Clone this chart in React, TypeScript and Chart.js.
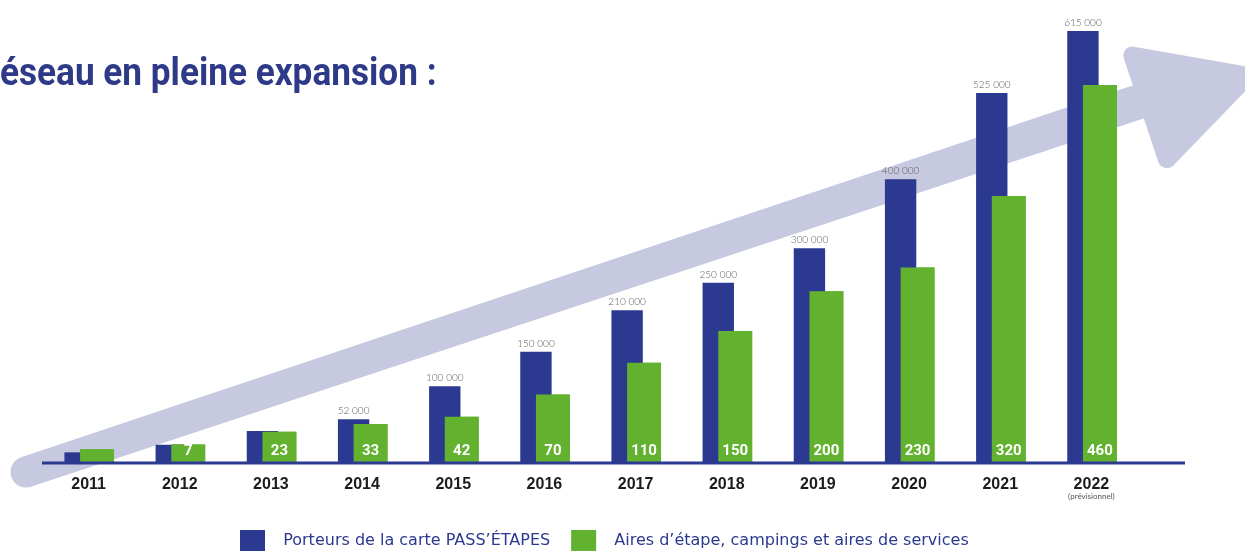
import React, { useEffect, useRef } from "react";
import { Chart, registerables } from "chart.js";

Chart.register(...registerables);

// ---- data ----
const years = ["2011", "2012", "2013", "2014", "2015", "2016", "2017", "2018", "2019", "2020", "2021", "2022"];
const porteurs = [4000, 15000, 35000, 52000, 100000, 150000, 210000, 250000, 300000, 400000, 525000, 615000];
const porteursLabelled = [false, false, false, true, true, true, true, true, true, true, true, true];
const aires = [1, 7, 23, 33, 42, 70, 110, 150, 200, 230, 320, 460];
const airesLabelled = [false, true, true, true, true, true, true, true, true, true, true, true];
const seriesNames = ["Porteurs de la carte PASS’ÉTAPES", "Aires d’étape, campings et aires de services"];
const titleText = "éseau en pleine expansion :";
const forecastNote = "(prévisionnel)";
const forecastYear = "2022";

const BLUE = "#2b3990";
const GREEN = "#62b22f";
const ARROW = "#c6c9df";

const fmt = (v: number) => String(v).replace(/\B(?=(\d{3})+(?!\d))/g, " ");

const decorPlugin = {
  id: "decor",
  afterLayout(chart: any) {
    const lg = chart.legend;
    if (!lg || !lg.lineWidths) return;
    const pad = lg.options.labels.padding;
    const cx = (lg.left + pad + lg.right - lg.lineWidths[0]) / 2;
    const s = 240 - cx;
    lg.left += s;
    lg.right += s;
  },
  beforeDatasetsDraw(chart: any) {
    const ctx = chart.ctx as CanvasRenderingContext2D;
    ctx.save();
    ctx.fillStyle = ARROW;
    // shaft
    const tx = 26, ty = 472;
    const hx = 1150, hy = 98;
    const dx = hx - tx, dy = hy - ty;
    const len = Math.hypot(dx, dy);
    const nx = -dy / len, ny = dx / len;
    const wt = 15.5, wh = 17.5;
    ctx.beginPath();
    ctx.moveTo(tx + nx * wt, ty + ny * wt);
    ctx.lineTo(hx + nx * wh, hy + ny * wh);
    ctx.lineTo(hx - nx * wh, hy - ny * wh);
    ctx.lineTo(tx - nx * wt, ty - ny * wt);
    ctx.closePath();
    ctx.fill();
    ctx.beginPath();
    ctx.arc(tx, ty, wt, 0, Math.PI * 2);
    ctx.fill();
    // head (rounded triangle)
    const pts = [
      [1119, 44],
      [1266, 70],
      [1163, 176],
    ];
    const r = 9;
    ctx.beginPath();
    const start = [(pts[0][0] + pts[1][0]) / 2, (pts[0][1] + pts[1][1]) / 2];
    ctx.moveTo(start[0], start[1]);
    ctx.arcTo(pts[1][0], pts[1][1], pts[2][0], pts[2][1], r);
    ctx.arcTo(pts[2][0], pts[2][1], pts[0][0], pts[0][1], r);
    ctx.arcTo(pts[0][0], pts[0][1], pts[1][0], pts[1][1], r);
    ctx.closePath();
    ctx.fill();
    ctx.restore();
  },
  afterDatasetsDraw(chart: any) {
    const ctx = chart.ctx as CanvasRenderingContext2D;
    // green bars drawn in front of the blue ones
    const gMeta = chart.getDatasetMeta(1);
    gMeta.controller.draw();
    const bMeta = chart.getDatasetMeta(0);
    const area = chart.chartArea;

    // baseline
    ctx.save();
    ctx.strokeStyle = BLUE;
    ctx.lineWidth = 3;
    ctx.beginPath();
    ctx.moveTo(42, area.bottom + 1);
    ctx.lineTo(1185, area.bottom + 1);
    ctx.stroke();

    // blue value labels
    ctx.fillStyle = "#5a5a5a";
    ctx.font = "300 10px Lato";
    ctx.textAlign = "center";
    ctx.textBaseline = "alphabetic";
    bMeta.data.forEach((el: any, i: number) => {
      if (!porteursLabelled[i]) return;
      ctx.fillText(fmt(porteurs[i]), el.x, el.y - 5);
    });

    // green value labels
    ctx.fillStyle = "#ffffff";
    ctx.font = "bold 15px Roboto";
    gMeta.data.forEach((el: any, i: number) => {
      if (!airesLabelled[i]) return;
      ctx.fillText(String(aires[i]), el.x, area.bottom - 7);
    });

    // forecast note under the last year
    const xs = chart.scales.x;
    const idx = years.indexOf(forecastYear);
    ctx.fillStyle = "#555555";
    ctx.font = "8px Lato";
    ctx.fillText(forecastNote, xs.getPixelForValue(idx), area.bottom + 37);
    ctx.restore();
  },
};

export default function App() {
  const canvasRef = useRef<HTMLCanvasElement | null>(null);
  const titleRef = useRef<HTMLSpanElement | null>(null);

  useEffect(() => {
    if (titleRef.current) {
      const w = titleRef.current.offsetWidth;
      if (w > 0) titleRef.current.style.transform = `scaleX(${437 / w})`;
    }
    const chart = new Chart(canvasRef.current as HTMLCanvasElement, {
      type: "bar",
      data: {
        labels: years,
        datasets: [
          {
            label: seriesNames[0],
            data: porteurs,
            backgroundColor: BLUE,
            yAxisID: "y",
            base: -10000,
            barPercentage: 1.85,
            categoryPercentage: 0.372,
          },
          {
            label: seriesNames[1],
            data: aires,
            backgroundColor: GREEN,
            yAxisID: "y2",
            base: -15,
            barPercentage: 2.0,
            categoryPercentage: 0.372,
          },
        ],
      },
      plugins: [decorPlugin],
      options: {
        animation: false,
        responsive: true,
        maintainAspectRatio: false,
        layout: { padding: { left: 43, right: 108, top: 31, bottom: 9 } },
        scales: {
          x: {
            grid: { display: false, drawTicks: false },
            border: { display: false },
            ticks: {
              color: "#1c1c1c",
              font: { family: "Liberation Sans", weight: "bold", size: 16 },
              padding: 13,
            },
            afterFit: (scale: any) => {
              scale.height = 47;
            },
          },
          y: { display: false, min: -10000, max: 615000 },
          y2: { display: false, min: -15, max: 528 },
        },
        plugins: {
          legend: {
            position: "bottom",
            labels: {
              boxWidth: 25,
              boxHeight: 21,
              padding: 21,
              color: BLUE,
              font: { family: "DejaVu Sans", size: 16 },
              generateLabels: (chart: any) =>
                Chart.defaults.plugins.legend.labels.generateLabels(chart).map((item: any) => ({
                  ...item,
                  text: "  " + item.text,
                })),
            },
          },
          tooltip: { enabled: false },
        },
      },
    });
    return () => chart.destroy();
  }, []);

  return (
    <div style={{ position: "fixed", left: 0, top: 0, width: 1245, height: 553, overflow: "hidden", background: "#fff" }}>
      <div style={{ position: "absolute", left: 0, top: 0, width: 1245, height: 570 }}>
        <canvas ref={canvasRef} />
      </div>
      <span
        ref={titleRef}
        style={{
          position: "absolute",
          left: 0,
          top: 53,
          fontFamily: "Roboto",
          fontWeight: 700,
          fontSize: 38,
          lineHeight: "38px",
          color: "#2e3a87",
          whiteSpace: "nowrap",
          transformOrigin: "0 0",
        }}
      >
        {titleText}
      </span>
    </div>
  );
}
